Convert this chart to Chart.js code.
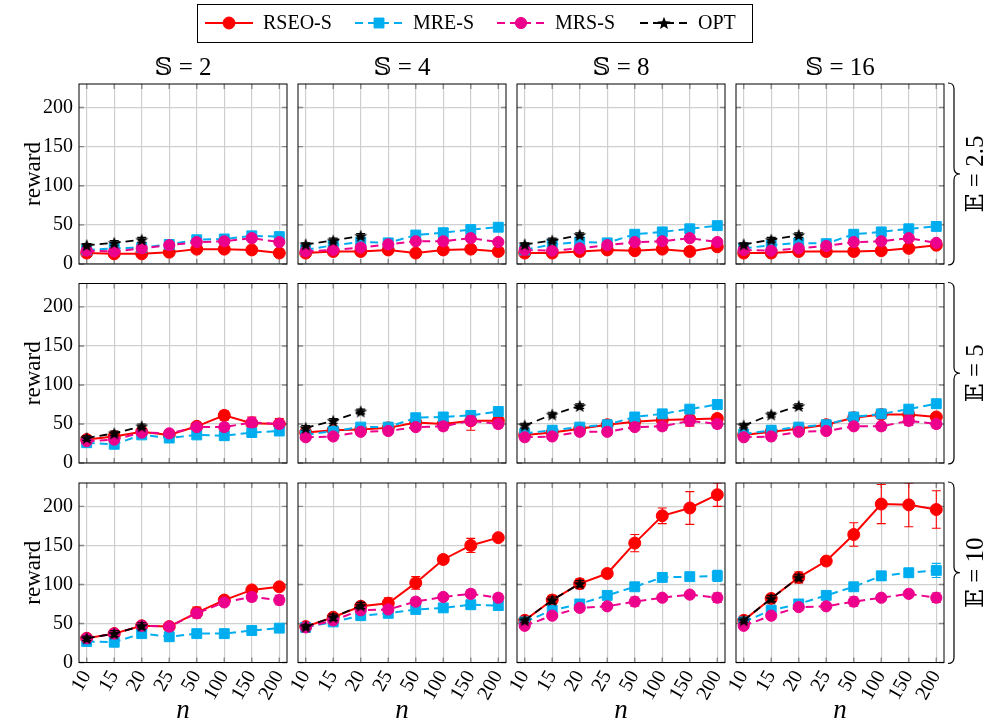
<!DOCTYPE html>
<html>
<head>
<meta charset="utf-8">
<script src="https://cdn.jsdelivr.net/npm/chart.js@4.4.1/dist/chart.umd.min.js"></script>
<style>
  html, body { margin: 0; padding: 0; background: #ffffff; }
  #wrap { position: relative; width: 990px; height: 724px; }
  #wrap canvas { position: absolute; left: 0; top: 0; }
</style>
</head>
<body>
<div id="wrap"></div>
<script>
// ---- categories and labels ----
const N_LABELS = ['10', '15', '20', '25', '50', '100', '150', '200'];
const S_TITLES = ['2', '4', '8', '16'];
const E_TITLES = ['2.5', '5', '10'];
const Y_TICKS = [0, 50, 100, 150, 200];
const SERIES_NAMES = ['RSEO-S', 'MRE-S', 'MRS-S', 'OPT'];

// ---- mean reward, one row per S = 2, 4, 8, 16 ----
const RSEO_E2_5 = [[14,13,13,15,19,19,18,14],[14,16,16,18,14,18,19,16],[14,14,16,18,17,19,16,22],[14,14,16,16,16,17,20,24]];
const RSEO_E5   = [[30,34,40,36,47,61,51,50],[39,42,43,45,52,50,54,54],[36,39,44,49,53,55,56,57],[36,40,44,49,58,62,62,59]];
const RSEO_E10  = [[31,37,47,46,64,80,93,97],[46,58,72,76,102,132,150,160],[54,80,101,114,153,188,198,215],[54,82,109,130,164,203,202,196]];

const MRE_E2_5 = [[18,20,21,25,31,32,36,35],[18,24,28,27,37,40,44,47],[18,25,28,27,38,41,45,49],[20,24,27,26,38,41,45,48]];
const MRE_E5   = [[26,24,36,32,36,35,39,41],[36,41,46,46,58,59,61,66],[38,42,46,49,59,63,69,75],[37,42,46,49,59,63,69,76]];
const MRE_E10  = [[27,26,37,33,37,37,41,44],[45,52,60,63,68,70,74,73],[52,67,75,86,97,109,110,111],[52,67,75,86,97,111,115,118]];

const MRS_E2_5 = [[17,16,20,24,28,29,33,28],[16,18,21,25,29,29,33,28],[18,17,20,24,28,29,33,28],[18,17,20,23,28,29,33,27]];
const MRS_E5   = [[28,30,39,38,46,46,52,50],[33,34,40,41,46,47,54,50],[33,34,40,40,46,47,54,50],[33,34,40,41,47,47,54,50]];
const MRS_E10  = [[31,37,47,46,63,77,84,80],[45,54,67,68,78,84,88,83],[47,60,70,72,78,83,87,83],[47,60,71,72,78,83,88,83]];

// OPT is only available for n = 10, 15, 20
const OPT_E2_5 = [[24,27,31],[25,30,36],[25,30,37],[25,31,37]];
const OPT_E5   = [[32,38,47],[45,54,66],[48,62,73],[48,62,73]];
const OPT_E10  = [[31,37,47],[46,58,73],[54,80,101],[54,82,109]];

// ---- error bar half-widths ----
const RSEO_ERR_E2_5 = [[3,3,3,3,3,4,4,3],[3,3,3,3,3,4,4,3],[3,3,3,3,3,4,3,4],[3,3,3,3,3,3,3,3]];
const RSEO_ERR_E5   = [[3,3,4,3,4,6,8,7],[3,3,3,5,3,4,12,4],[3,3,3,6,3,4,9,5],[3,3,3,4,3,4,3,3]];
const RSEO_ERR_E10  = [[3,3,3,3,7,4,4,4],[3,3,4,7,8,5,9,4],[3,6,6,4,11,10,21,15],[3,5,7,4,15,25,28,24]];

const MRE_ERR_E2_5 = [[3,3,3,3,3,3,3,3],[3,3,3,3,3,3,3,3],[3,3,3,3,3,3,3,3],[3,3,3,3,3,3,3,3]];
const MRE_ERR_E5   = [[3,3,3,3,4,4,5,4],[3,3,3,3,4,4,5,4],[3,3,3,3,4,4,5,4],[3,3,3,3,4,4,5,4]];
const MRE_ERR_E10  = [[3,4,4,4,4,4,5,4],[3,3,3,4,4,5,5,4],[3,3,4,4,4,4,4,7],[3,3,4,4,4,6,5,9]];

const MRS_ERR_E2_5 = [[3,3,3,3,3,3,3,3],[3,3,3,3,3,3,3,3],[3,3,3,3,3,3,3,3],[3,3,3,3,3,3,3,3]];
const MRS_ERR_E5   = [[3,3,3,4,4,5,6,5],[3,3,3,4,4,5,6,5],[3,3,3,4,4,5,6,5],[3,3,3,4,4,5,6,5]];
const MRS_ERR_E10  = [[3,3,3,3,4,4,5,6],[3,3,4,4,5,4,5,5],[3,4,4,4,6,4,4,6],[3,4,4,4,6,4,4,6]];

const OPT_ERR_E2_5 = [[2,3,3],[2,3,3],[2,3,3],[2,3,3]];
const OPT_ERR_E5   = [[3,3,3],[3,3,3],[3,3,3],[3,3,3]];
const OPT_ERR_E10  = [[3,4,4],[3,4,4],[3,4,4],[3,4,4]];

const ROWS = [
  { rseo: RSEO_E2_5, mre: MRE_E2_5, mrs: MRS_E2_5, opt: OPT_E2_5,
    rseoErr: RSEO_ERR_E2_5, mreErr: MRE_ERR_E2_5, mrsErr: MRS_ERR_E2_5, optErr: OPT_ERR_E2_5 },
  { rseo: RSEO_E5, mre: MRE_E5, mrs: MRS_E5, opt: OPT_E5,
    rseoErr: RSEO_ERR_E5, mreErr: MRE_ERR_E5, mrsErr: MRS_ERR_E5, optErr: OPT_ERR_E5 },
  { rseo: RSEO_E10, mre: MRE_E10, mrs: MRS_E10, opt: OPT_E10,
    rseoErr: RSEO_ERR_E10, mreErr: MRE_ERR_E10, mrsErr: MRS_ERR_E10, optErr: OPT_ERR_E10 }
];

// ---- page geometry ----
const PAGE_W = 990, PAGE_H = 724;
const COL_LEFT = [79, 298, 517, 736];
const PANEL_W = 208;
const ROW_TOP = [84, 283.5, 483];
const ROW_BOTTOM = [264, 463, 662.5];
const AXIS_W = 60, AXIS_H = 55;
const SERIF = "'Liberation Serif', 'DejaVu Serif', 'DejaVu Sans', serif";

// five-pointed star marker
function makeStar() {
  const c = document.createElement('canvas');
  c.width = 16; c.height = 16;
  const g = c.getContext('2d');
  g.fillStyle = '#000';
  g.beginPath();
  for (let i = 0; i < 10; i++) {
    const r = i % 2 === 0 ? 6.8 : 2.9;
    const a = -Math.PI / 2 + i * Math.PI / 5;
    const px = 8 + r * Math.cos(a), py = 8.6 + r * Math.sin(a);
    if (i === 0) g.moveTo(px, py); else g.lineTo(px, py);
  }
  g.closePath();
  g.fill();
  return c;
}
const STAR = makeStar();

const STYLES = [
  { color: '#ff0000', dash: [],     width: 2,   point: 'circle', radius: 6,   order: 3 },
  { color: '#00aeef', dash: [8, 5], width: 2,   point: 'rect',   radius: 7,   order: 2 },
  { color: '#ec008c', dash: [8, 5], width: 2,   point: 'circle', radius: 5.6, order: 1 },
  { color: '#000000', dash: [8, 5], width: 1.8, point: STAR,     radius: 6,   order: 0 }
];

function toPoints(arr) { return arr.map((v, i) => ({ x: i, y: v })); }

// error bars, drawn just under each series
const errorBars = {
  id: 'errorBars',
  beforeDatasetDraw(chart, args) {
    const ds = chart.data.datasets[args.index];
    if (!ds.errors) return;
    const { ctx, chartArea, scales } = chart;
    ctx.save();
    ctx.beginPath();
    ctx.rect(chartArea.left, chartArea.top, chartArea.right - chartArea.left, chartArea.bottom - chartArea.top);
    ctx.clip();
    ctx.strokeStyle = ds.borderColor;
    ctx.lineWidth = 1.1;
    ctx.setLineDash([]);
    ds.data.forEach((p, i) => {
      const e = ds.errors[i];
      const x = scales.x.getPixelForValue(p.x);
      const y1 = scales.y.getPixelForValue(p.y + e);
      const y2 = scales.y.getPixelForValue(p.y - e);
      ctx.beginPath();
      ctx.moveTo(x, y1); ctx.lineTo(x, y2);
      ctx.moveTo(x - 4.5, y1); ctx.lineTo(x + 4.5, y1);
      ctx.moveTo(x - 4.5, y2); ctx.lineTo(x + 4.5, y2);
      ctx.stroke();
    });
    ctx.restore();
  }
};

// inner tick marks on all four sides and the closed frame
const frame = {
  id: 'frame',
  beforeDatasetsDraw(chart) {
    const { ctx, chartArea: a, scales } = chart;
    ctx.save();
    ctx.strokeStyle = '#8a8a8a';
    ctx.lineWidth = 1.4;
    ctx.beginPath();
    scales.x.ticks.forEach(t => {
      const x = scales.x.getPixelForValue(t.value);
      ctx.moveTo(x, a.bottom); ctx.lineTo(x, a.bottom - 5);
      ctx.moveTo(x, a.top); ctx.lineTo(x, a.top + 5);
    });
    scales.y.ticks.forEach(t => {
      const y = scales.y.getPixelForValue(t.value);
      ctx.moveTo(a.left, y); ctx.lineTo(a.left + 5, y);
      ctx.moveTo(a.right, y); ctx.lineTo(a.right - 5, y);
    });
    ctx.stroke();
    ctx.restore();
  },
  afterDatasetsDraw(chart) {
    const { ctx, chartArea: a } = chart;
    ctx.save();
    ctx.strokeStyle = '#000';
    ctx.lineWidth = 1;
    ctx.strokeRect(a.left, a.top, a.right - a.left, a.bottom - a.top);
    ctx.restore();
  }
};

function brace(ctx, x0, y0, y1, d) {
  const ym = (y0 + y1) / 2, h = d / 2;
  ctx.beginPath();
  ctx.moveTo(x0, y0);
  ctx.quadraticCurveTo(x0 + h, y0, x0 + h, y0 + h);
  ctx.lineTo(x0 + h, ym - h);
  ctx.quadraticCurveTo(x0 + h, ym, x0 + d, ym);
  ctx.quadraticCurveTo(x0 + h, ym, x0 + h, ym + h);
  ctx.lineTo(x0 + h, y1 - h);
  ctx.quadraticCurveTo(x0 + h, y1, x0, y1);
  ctx.stroke();
}

// titles, row labels, braces and the legend box
const decorations = {
  id: 'decorations',
  afterDraw(chart) {
    const ctx = chart.ctx;
    ctx.save();
    ctx.fillStyle = '#000';
    ctx.textAlign = 'center';
    ctx.textBaseline = 'middle';

    // column titles
    ctx.font = `25px ${SERIF}`;
    S_TITLES.forEach((s, c) => {
      ctx.fillText('\u{1D54A} = ' + s, COL_LEFT[c] + PANEL_W / 2, 68);
    });

    // x axis titles
    ctx.font = `italic 27px ${SERIF}`;
    S_TITLES.forEach((s, c) => {
      ctx.fillText('n', COL_LEFT[c] + PANEL_W / 2, 711);
    });

    // y axis titles, row labels and braces
    E_TITLES.forEach((e, r) => {
      const ym = (ROW_TOP[r] + ROW_BOTTOM[r]) / 2;
      ctx.save();
      ctx.translate(34, ym);
      ctx.rotate(-Math.PI / 2);
      ctx.font = `23px ${SERIF}`;
      ctx.fillText('reward', 0, 0);
      ctx.restore();

      ctx.save();
      ctx.translate(976, ym);
      ctx.rotate(-Math.PI / 2);
      ctx.font = `25px ${SERIF}`;
      ctx.fillText('\u{1D53C} = ' + e, 0, 0);
      ctx.restore();

      ctx.save();
      ctx.strokeStyle = '#000';
      ctx.lineWidth = 1.2;
      brace(ctx, 948, ROW_TOP[r] - 1, ROW_BOTTOM[r] + 1, 12);
      ctx.restore();
    });

    // legend
    ctx.strokeStyle = '#000';
    ctx.lineWidth = 1;
    ctx.strokeRect(197.5, 4.5, 555, 38);
    const starts = [205, 355, 497, 640];
    ctx.font = `20px ${SERIF}`;
    ctx.textAlign = 'left';
    chart.data.datasets.forEach((ds, i) => {
      const x0 = starts[i], y = 23;
      ctx.save();
      ctx.strokeStyle = ds.borderColor;
      ctx.lineWidth = ds.borderWidth;
      ctx.setLineDash(ds.borderDash || []);
      ctx.beginPath();
      ctx.moveTo(x0, y); ctx.lineTo(x0 + 48, y);
      ctx.stroke();
      ctx.setLineDash([]);
      ctx.fillStyle = ds.pointBackgroundColor;
      ctx.strokeStyle = ds.pointBorderColor;
      ctx.lineWidth = 1;
      Chart.helpers.drawPoint(ctx, { pointStyle: ds.pointStyle, radius: ds.pointRadius, rotation: 0, borderWidth: 1 }, x0 + 24, y);
      ctx.restore();
      ctx.fillStyle = '#000';
      ctx.fillText(SERIES_NAMES[i], x0 + 58, y + 1);
    });
    ctx.restore();
  }
};

function makePanel(r, c) {
  const cv = document.createElement('canvas');
  cv.width = PAGE_W; cv.height = PAGE_H;
  cv.style.width = PAGE_W + 'px'; cv.style.height = PAGE_H + 'px';
  document.getElementById('wrap').appendChild(cv);

  const row = ROWS[r];
  const series = [
    { data: row.rseo[c], err: row.rseoErr[c] },
    { data: row.mre[c],  err: row.mreErr[c] },
    { data: row.mrs[c],  err: row.mrsErr[c] },
    { data: row.opt[c],  err: row.optErr[c] }
  ];
  const datasets = series.map((s, i) => {
    const st = STYLES[i];
    return {
      label: SERIES_NAMES[i],
      data: toPoints(s.data),
      errors: s.err,
      borderColor: st.color,
      backgroundColor: st.color,
      borderWidth: st.width,
      borderDash: st.dash,
      pointStyle: st.point,
      pointRadius: st.radius,
      pointBackgroundColor: st.color,
      pointBorderColor: st.color,
      pointBorderWidth: 1,
      tension: 0,
      fill: false,
      order: st.order
    };
  });

  const left = COL_LEFT[c], right = left + PANEL_W;
  const tickFont = { family: SERIF, size: 20 };
  const plugins = [errorBars, frame];
  if (r === 0 && c === 0) plugins.push(decorations);

  new Chart(cv, {
    type: 'line',
    data: { datasets },
    options: {
      responsive: false,
      animation: false,
      events: [],
      layout: {
        autoPadding: false,
        padding: { left: left - AXIS_W, right: PAGE_W - right, top: ROW_TOP[r], bottom: PAGE_H - ROW_BOTTOM[r] - AXIS_H }
      },
      scales: {
        x: {
          type: 'linear',
          min: -0.28, max: 7.28,
          afterBuildTicks: s => { s.ticks = N_LABELS.map((_, i) => ({ value: i })); },
          afterFit: s => { s.height = AXIS_H; s.paddingLeft = 0; s.paddingRight = 0; },
          ticks: {
            display: r === 2,
            autoSkip: false,
            minRotation: 60, maxRotation: 60,
            padding: 4,
            color: '#000',
            font: tickFont,
            callback: v => N_LABELS[v]
          },
          grid: { color: '#cfcfcf', lineWidth: 1.2, drawTicks: false },
          border: { display: false }
        },
        y: {
          min: 0, max: 230,
          afterBuildTicks: s => { s.ticks = Y_TICKS.map(v => ({ value: v })); },
          afterFit: s => { s.width = AXIS_W; s.paddingTop = 0; s.paddingBottom = 0; },
          ticks: {
            display: c === 0,
            padding: 6,
            color: '#000',
            font: tickFont
          },
          grid: { color: '#cfcfcf', lineWidth: 1.2, drawTicks: false },
          border: { display: false }
        }
      },
      plugins: { legend: { display: false }, tooltip: { enabled: false }, title: { display: false } }
    },
    plugins
  });
}

for (let r = 0; r < 3; r++) {
  for (let c = 0; c < 4; c++) makePanel(r, c);
}
</script>
</body>
</html>
